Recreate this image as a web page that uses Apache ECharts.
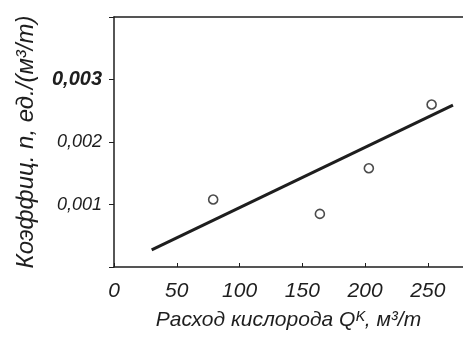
<!DOCTYPE html>
<html>
<head>
<meta charset="utf-8">
<script src="https://cdn.jsdelivr.net/npm/echarts@6/dist/echarts.min.js"></script>
<style>
  html, body { margin: 0; padding: 0; background: #fff; }
  #chart { width: 463px; height: 339px; }
</style>
</head>
<body>
<div id="chart"></div>
<script>
// measured points: oxygen flow Q (m3/t) vs coefficient n
const pointsQ = [79, 164, 203, 253];
const pointsN = [0.00108, 0.00085, 0.00158, 0.0026];
// hand-drawn trend line end points
const lineQ = [30, 270];
const lineN = [0.000275, 0.00259];

const xTicks = [0, 50, 100, 150, 200, 250];
const yTicks = [0.001, 0.002, 0.003];

const ink = '#1e1e1e';
const font = '"Liberation Sans", "DejaVu Sans", sans-serif';

const chart = echarts.init(document.getElementById('chart'), undefined, { renderer: 'canvas' });

chart.setOption({
  backgroundColor: '#ffffff',
  animation: false,
  grid: { left: 114, top: 17, right: 0, bottom: 72 },
  xAxis: [
    {
      type: 'value',
      min: 0, max: 278, interval: 50,
      name: 'Расход кислорода Qᴷ, м³/т',
      nameLocation: 'middle',
      nameGap: 43,
      nameTextStyle: { color: ink, fontSize: 21, fontStyle: 'italic', fontFamily: font },
      axisLine: { lineStyle: { color: ink, width: 1.5 } },
      axisTick: { inside: true, length: 4, lineStyle: { color: ink } },
      axisLabel: {
        color: ink, fontSize: 21, fontStyle: 'italic', fontFamily: font, margin: 14,
        showMaxLabel: false,
        formatter: (v) => xTicks.includes(v) ? String(v) : ''
      },
      splitLine: { show: false }
    },
    {
      type: 'value', position: 'top',
      min: 0, max: 278,
      axisLine: { show: true, lineStyle: { color: ink, width: 1.5 } },
      axisTick: { show: false }, axisLabel: { show: false }, splitLine: { show: false }
    }
  ],
  yAxis: {
    type: 'value',
    min: 0, max: 0.004, interval: 0.001,
    name: 'Коэффиц. n, ед./(м³/т)',
    nameLocation: 'middle',
    nameGap: 76,
    nameTextStyle: { color: ink, fontSize: 24, fontStyle: 'italic', fontFamily: font },
    axisLine: { show: true, lineStyle: { color: ink, width: 1.5 } },
    axisTick: { length: 5, lineStyle: { color: ink } },
    axisLabel: {
      color: ink, fontSize: 18, fontStyle: 'italic', fontFamily: font, margin: 12,
      formatter: (v) => {
        const t = yTicks.find((y) => Math.abs(y - v) < 1e-9);
        if (t === undefined) return '';
        const s = t.toFixed(3).replace('.', ',');
        return t === 0.003 ? '{b|' + s + '}' : s;
      },
      rich: { b: { fontSize: 20, fontWeight: 'bold', fontStyle: 'italic', fontFamily: font, color: ink } }
    },
    splitLine: { show: false }
  },
  series: [
    {
      type: 'line',
      data: lineQ.map((q, i) => [q, lineN[i]]),
      showSymbol: false,
      lineStyle: { color: ink, width: 3 }
    },
    {
      type: 'scatter',
      data: pointsQ.map((q, i) => [q, pointsN[i]]),
      symbol: 'circle',
      symbolSize: 9,
      itemStyle: { color: '#fff', borderColor: ink, borderWidth: 1.6 }
    }
  ]
});
</script>
</body>
</html>
